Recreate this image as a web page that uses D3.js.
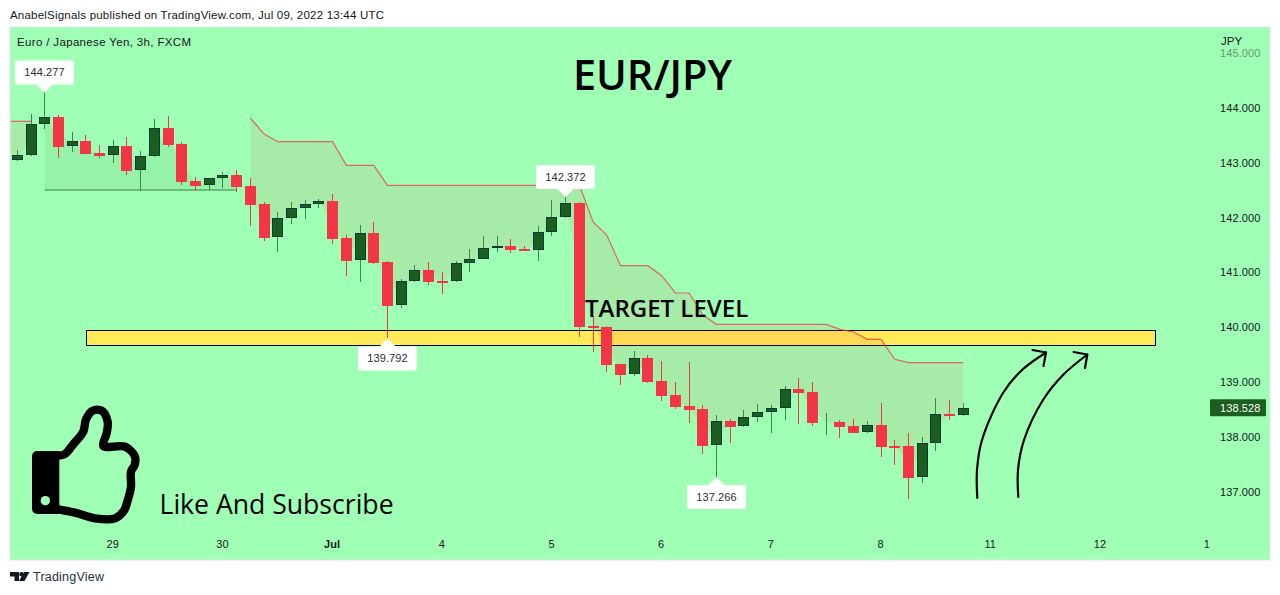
<!DOCTYPE html>
<html><head><meta charset="utf-8">
<script src="https://d3js.org/d3.v7.min.js"></script>
<style>
html,body{margin:0;padding:0;background:#fff;overflow:hidden}
svg{display:block}
text{font-family:"Liberation Sans",Arial,sans-serif}
</style></head><body>
<svg id="c" width="1280" height="595"></svg>
<script>
const opens=[143.032,143.123,143.688,143.828,143.287,143.391,143.172,143.123,143.300,142.849,143.105,143.628,143.336,142.662,142.576,142.704,142.771,142.570,142.242,141.628,141.974,142.157,142.230,142.297,141.622,141.209,141.714,141.185,140.388,140.826,141.039,140.839,140.826,141.154,141.234,141.427,141.477,141.422,141.391,141.719,141.993,142.261,140.018,140.000,139.325,139.130,139.435,139.016,138.760,138.560,138.505,137.836,138.286,138.182,138.347,138.438,138.511,138.870,138.815,138.250,138.268,138.195,138.073,138.213,137.831,137.831,137.253,137.873,138.414,138.401];
const highs=[143.227,143.883,144.277,143.865,143.555,143.500,143.318,143.409,143.464,143.208,143.792,143.847,143.373,142.735,142.711,142.826,142.862,142.716,142.279,142.096,142.279,142.315,142.333,142.425,141.677,141.859,141.914,141.203,140.875,141.130,141.185,141.003,141.203,141.422,141.659,141.659,141.604,141.477,141.841,142.315,142.372,142.279,140.201,140.018,139.325,139.562,139.490,139.380,138.997,139.362,138.578,138.396,138.323,138.487,138.596,138.578,138.924,139.070,138.997,138.432,138.305,138.323,138.286,138.615,137.940,138.068,137.995,138.706,138.669,138.615];
const lows=[143.032,143.123,143.610,143.081,143.190,143.154,143.081,142.990,142.771,142.479,143.105,143.281,142.589,142.479,142.498,142.534,142.461,141.841,141.568,141.367,141.878,141.969,142.169,141.513,140.930,140.820,141.148,139.792,140.346,140.826,140.766,140.602,140.826,141.003,141.234,141.367,141.349,141.385,141.203,141.659,141.993,139.818,139.544,139.180,138.943,139.107,138.979,138.651,138.505,138.250,137.685,137.266,137.885,138.182,138.268,138.068,138.305,138.232,138.195,138.031,137.976,138.068,138.073,137.630,137.484,136.864,137.156,137.739,138.305,138.378];
const closes=[143.130,143.695,143.823,143.281,143.385,143.154,143.117,143.294,142.844,143.112,143.622,143.318,142.643,142.570,142.711,142.766,142.552,142.224,141.622,141.982,142.164,142.237,142.292,141.604,141.203,141.708,141.167,140.383,140.833,141.034,140.820,140.820,141.161,141.234,141.435,141.471,141.404,141.385,141.726,142.000,142.255,140.000,139.982,139.307,139.125,139.429,138.997,138.742,138.542,138.487,137.831,138.281,138.177,138.354,138.445,138.518,138.864,138.797,138.250,138.268,138.177,138.068,138.208,137.812,137.812,137.247,137.880,138.409,138.396,138.528];
const trendUpper=[143.75,143.75,null,null,null,null,null,null,null,null,null,null,null,null,null,null,null,143.810,143.518,143.378,143.378,143.378,143.378,143.378,142.948,142.948,142.948,142.583,142.583,142.583,142.583,142.583,142.583,142.583,142.583,142.583,142.583,142.583,142.583,142.583,142.583,142.583,141.914,141.672,141.118,141.118,141.118,140.935,140.620,140.620,140.219,140.049,140.049,140.049,140.049,140.049,140.049,140.049,140.049,140.049,139.958,139.909,139.776,139.776,139.411,139.349,139.349,139.349,139.349,139.349];
const trendLower=[null,null,142.498,142.498,142.498,142.498,142.498,142.498,142.498,142.498,142.498,142.498,142.498,142.498,142.498,142.498,142.498];
const trendLeadUpper=143.75, trendLeadMid=143.30;
const priceTicks=[137,138,139,140,141,142,143,144];
const dayTickIdx=[7,15,23,31,39,47,55,63,71,79,86.8];
const dayTickLabels=["29","30","Jul","4","5","6","7","8","11","12","1"];
const extremes=[{i:2,p:144.277,up:true},{i:40,p:142.372,up:true},{i:27,p:139.792,up:false},{i:51,p:137.266,up:false}];
const lastPrice=138.528;
const targetBand=[139.665,139.945];
const fadedTick=145;

const BG="#9fffb5",RED="#f23645",GBODY="#1b5e20",GEDGE="#0b3b3b",GWICK="#388e3c",TXT="#131722";
const svg=d3.select("#c");
const x=d3.scaleLinear().domain([0,69]).range([17.3,963.3]);
const y=d3.scaleLinear().domain([137,144]).range([491.55,107.6]);
const fmt=d3.format(".3f");
svg.append("rect").attr("x",10).attr("y",27).attr("width",1260).attr("height",533).attr("fill",BG).attr("stroke","#e0e3eb").attr("stroke-width",1);
const defs=svg.append("defs");
defs.append("clipPath").attr("id","plot").append("rect").attr("x",11).attr("y",28).attr("width",1190).attr("height",531);
const plot=svg.append("g").attr("clip-path","url(#plot)");

// target band
plot.append("rect").attr("x",86.5).attr("y",Math.round(y(targetBand[1]))+.5).attr("width",1069).attr("height",Math.round(y(targetBand[0])-y(targetBand[1]))).attr("fill","#ffeb57").attr("stroke","#000").attr("stroke-width",1);

// supertrend
const mid=i=>(opens[i]+closes[i])/2;
const upperPts=trendUpper.map((v,i)=>({i,v,m:mid(i)}));
const seg1=[{i:-1,v:trendLeadUpper,m:trendLeadMid},...upperPts.filter(d=>d.i<2)];
const seg3=upperPts.filter(d=>d.i>=17);
const seg2=trendLower.map((v,i)=>({i,v,m:mid(i)})).filter(d=>d.v!=null);
const area=d3.area().x(d=>x(d.i)).y0(d=>y(d.v)).y1(d=>y(d.m));
const line=d3.line().x(d=>x(d.i)).y(d=>y(d.v));
[seg1,seg3].forEach(s=>{
  plot.append("path").attr("d",area(s)).attr("fill",RED).attr("fill-opacity",.1);
  plot.append("path").attr("d",line(s)).attr("fill","none").attr("stroke",RED).attr("stroke-opacity",.75).attr("stroke-width",1.2);
});
plot.append("path").attr("d",area(seg2)).attr("fill",GBODY).attr("fill-opacity",.08);
plot.append("path").attr("d",line(seg2)).attr("fill","none").attr("stroke",GBODY).attr("stroke-opacity",.5).attr("stroke-width",1.5);

// candles, snapped to whole pixels
const px=i=>Math.floor(x(i));
const candles=plot.append("g").attr("shape-rendering","crispEdges").selectAll("g").data(opens.map((o,i)=>({i,o,h:highs[i],l:lows[i],c:closes[i],up:closes[i]>=o}))).join("g");
candles.append("line").attr("x1",d=>px(d.i)+.5).attr("x2",d=>px(d.i)+.5).attr("y1",d=>Math.round(y(d.h))).attr("y2",d=>Math.round(y(d.l))).attr("stroke",d=>d.up?GWICK:RED).attr("stroke-width",1);
candles.append("rect")
 .attr("x",d=>px(d.i)-5+(d.up?.5:0)).attr("width",d=>d.up?10:11)
 .attr("y",d=>Math.round(Math.min(y(d.o),y(d.c)))+(d.up?.5:0))
 .attr("height",d=>{const h=Math.round(Math.abs(y(d.o)-y(d.c)));return d.up?Math.max(h-1,0):Math.max(h,2);})
 .attr("fill",d=>d.up?GBODY:RED).attr("stroke",d=>d.up?GEDGE:"none").attr("stroke-width",1);

// extreme labels
const labels=svg.append("g").selectAll("g").data(extremes).join("g").attr("transform",d=>`translate(${px(d.i)+.5},${y(d.p)})`);
labels.append("path").attr("fill","#fff").attr("d",d=>{
  const s=d.up?-1:1,w=29.5,t=8,h=24;
  return `M0,0 L${-t},${s*t} L${-w+2},${s*t} Q${-w},${s*t} ${-w},${s*(t+2)} L${-w},${s*(t+h-2)} Q${-w},${s*(t+h)} ${-w+2},${s*(t+h)} L${w-2},${s*(t+h)} Q${w},${s*(t+h)} ${w},${s*(t+h-2)} L${w},${s*(t+2)} Q${w},${s*t} ${w-2},${s*t} L${t},${s*t} Z`;
});
labels.append("text").attr("text-anchor","middle").attr("y",d=>d.up?-16:24).attr("font-size",11).attr("letter-spacing",.1).attr("fill","#2a2e39").text(d=>fmt(d.p));

// hand-drawn arrows
const arrow=d3.line().curve(d3.curveCatmullRom);
const arrows=svg.append("g").attr("fill","none").attr("stroke","#000").attr("stroke-width",2.2).attr("stroke-linecap","round").attr("stroke-linejoin","round");
[[[977.3,498],[977,470],[982,440],[1003,393],[1022,370],[1046,352.5]],[[1018.3,497],[1018,470],[1024,440],[1043,400],[1063,375],[1087.3,354.5]]].forEach(a=>arrows.append("path").attr("d",arrow(a)));
arrows.append("path").attr("d",d3.line()([[1032.5,350],[1046,352.5],[1043.5,366]]));
arrows.append("path").attr("d",d3.line()([[1073.5,352],[1087.3,354.5],[1085,368]]));

// big text
const t=svg.append("g").attr("fill","#000");
t.append("text").attr("x",652.5).attr("y",90).attr("text-anchor","middle").attr("font-size",41.5).attr("font-weight",600).style("font-family",'"Open Sans"').text("EUR/JPY");
t.append("text").attr("x",585).attr("y",317).attr("font-size",24).attr("font-weight",600).style("font-family",'"Open Sans"').text("TARGET LEVEL");
t.append("text").attr("x",159.5).attr("y",514).attr("font-size",26.6).style("font-family",'"Open Sans"').text("Like And Subscribe");

// thumb icon
const thumb=svg.append("g").attr("transform","translate(0,390) scale(0.3333)");
thumb.append("path").attr("fill","#000").attr("d","M96,200 Q96,183 113,183 L178,183 L178,372 L113,372 Q96,372 96,355 Z");
thumb.append("circle").attr("cx",136).attr("cy",332).attr("r",14).attr("fill",BG);
thumb.append("path").attr("fill","none").attr("stroke","#000").attr("stroke-width",25).attr("stroke-linejoin","round")
 .attr("d",d3.line().curve(d3.curveCatmullRom)([[175,197],[195,192],[222,160],[250,125],[258,88],[278,62],[305,62],[323,95],[320,130],[310,168],[375,170],[405,200],[404,225],[393,245],[393,290],[382,335],[372,362],[345,385],[285,385],[225,368],[175,358]]));

// axes
const yAxis=d3.axisRight(y).tickValues(priceTicks).tickFormat(fmt).tickSize(0).tickPadding(0);
const ya=svg.append("g").attr("transform","translate(1220,0.3)").call(yAxis);
const xAxis=d3.axisBottom(x).tickValues(dayTickIdx).tickFormat((d,i)=>dayTickLabels[i]).tickSize(0).tickPadding(0);
const xa=svg.append("g").attr("transform","translate(-1,540)").call(xAxis);
[ya,xa].forEach(a=>{a.select(".domain").remove();a.selectAll("text").attr("font-size",11).attr("letter-spacing",.1).attr("fill",TXT).style("font-family",'"Liberation Sans"');});
xa.selectAll("text").filter((d,i)=>i==2).attr("font-weight",700);
svg.append("text").attr("x",1220).attr("y",y(fadedTick)+4).attr("font-size",11).attr("letter-spacing",.1).attr("fill",TXT).attr("opacity",.45).text(fmt(fadedTick));
svg.append("text").attr("x",1221).attr("y",45).attr("font-size",11.5).attr("fill",TXT).text("JPY");

// last price tag
svg.append("rect").attr("x",1210).attr("y",y(lastPrice)-8.5).attr("width",56).attr("height",17).attr("rx",1).attr("fill",GBODY);
svg.append("text").attr("x",1220).attr("y",y(lastPrice)+4).attr("font-size",11).attr("letter-spacing",.1).attr("fill","#fff").text(fmt(lastPrice));

// header / footer
svg.append("text").attr("x",10).attr("y",19).attr("font-size",11.5).attr("fill",TXT).attr("textLength",374).text("AnabelSignals published on TradingView.com, Jul 09, 2022 13:44 UTC");
svg.append("text").attr("x",17).attr("y",46).attr("font-size",11.5).attr("fill",TXT).attr("textLength",174).text("Euro / Japanese Yen, 3h, FXCM");
const logo=svg.append("g").attr("transform","translate(10,572)").attr("fill","#131722");
logo.append("path").attr("d","M0,0 H9 V9 H4.5 V4.5 H0 Z");
logo.append("circle").attr("cx",11.5).attr("cy",2.2).attr("r",2.2);
logo.append("path").attr("d","M14,0 H19.5 L14.5,9 H9 Z");
svg.append("text").attr("x",33).attr("y",581).attr("font-size",12.5).attr("fill","#2a2e39").attr("textLength",71).text("TradingView");
</script>
</body></html>
